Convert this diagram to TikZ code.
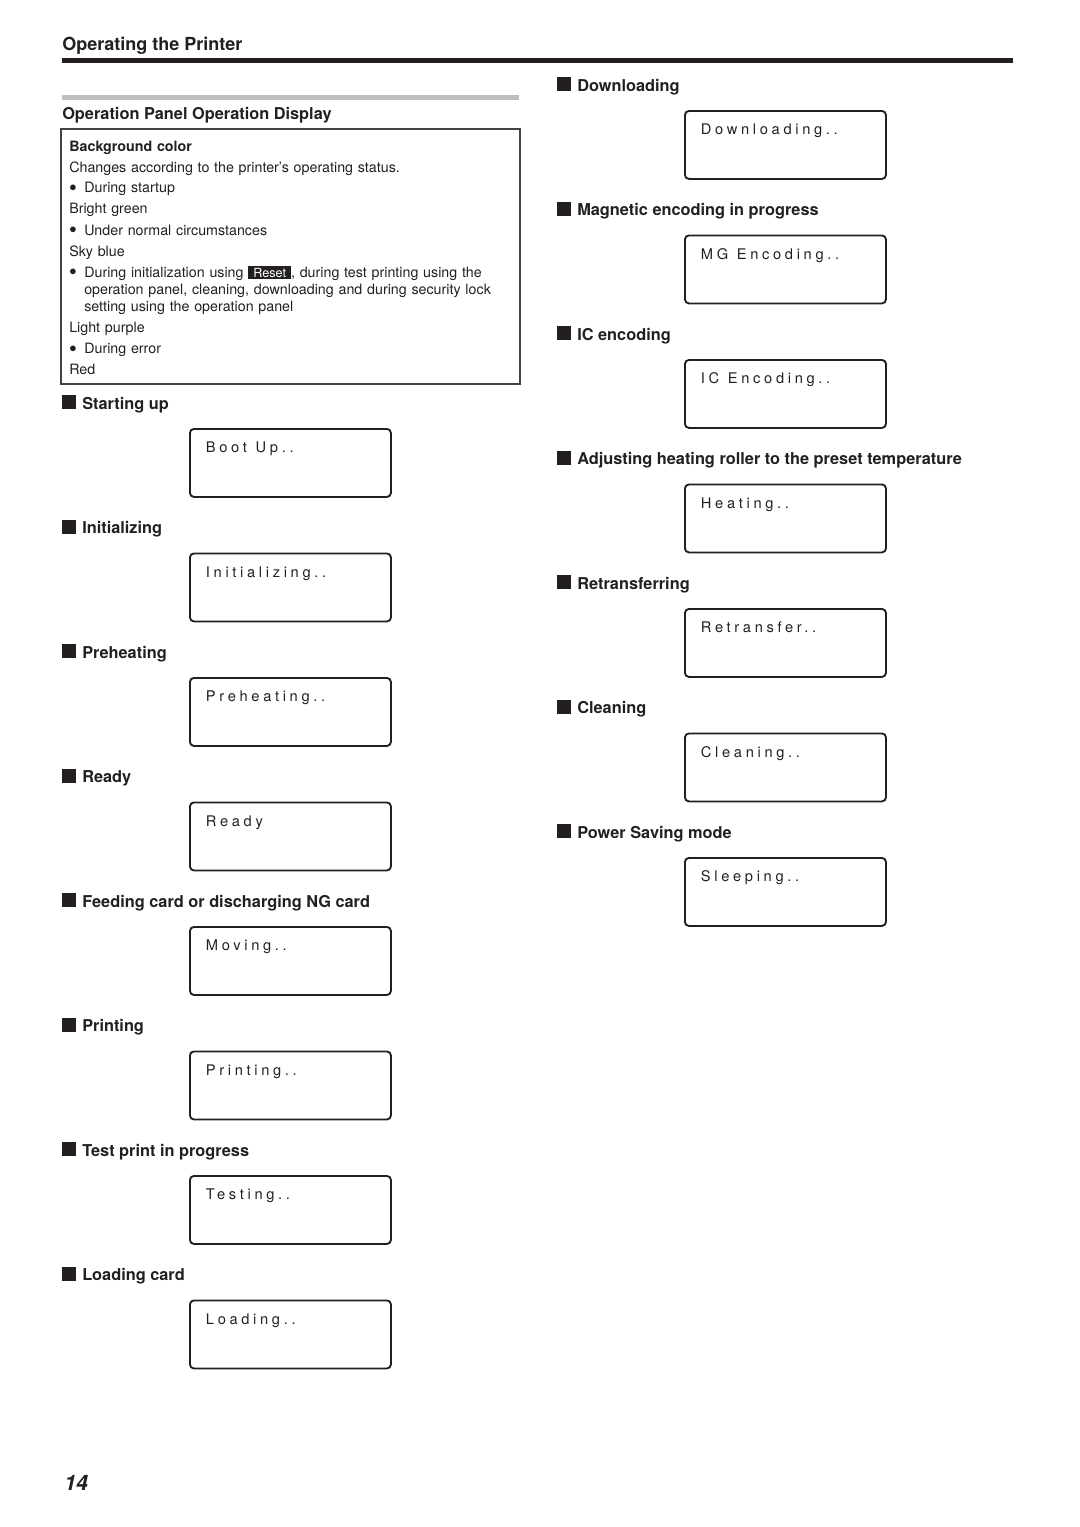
\documentclass[tikz,border=0pt]{standalone}
\usepackage{fontspec}
\setmainfont{TeX Gyre Heros}
\usepackage{tikz}
\usetikzlibrary{positioning}
\usepackage{xcolor}
\definecolor{ink}{HTML}{231F20}
\definecolor{rulegray}{HTML}{BEBEBE}
\newcommand{\hdmark}{\rule{10.5pt}{10.5pt}\hspace{4.5pt}}
\newcommand{\bul}{\hangindent=11.25pt\hangafter=1\makebox[11.25pt][l]{\raisebox{0.9pt}{$\bullet$}}}
\newcommand{\resetkey}{{\setlength{\fboxsep}{1.5pt}\colorbox{ink}{\fontsize{9.5}{9.5}\selectfont\hspace{2.2pt}\textcolor{white}{Reset}\hspace{2.2pt}}}}
\newcommand{\wsp}{\hspace{6.5pt}}
\tikzset{
  ttl/.style   = {anchor=base west, inner sep=0pt, text=ink,
                  font=\fontsize{13.5}{15}\selectfont\bfseries},
  hd/.style    = {anchor=base west, inner sep=0pt, text=ink,
                  font=\fontsize{12.25}{14}\selectfont\bfseries},
  disp/.style  = {draw=ink, line width=1.4pt, rounded corners=3pt,
                  inner xsep=12pt, inner ysep=0pt, text height=18pt, text depth=33pt,
                  text width=126.75pt, align=left, text=ink,
                  font=\fontsize{11}{13}\selectfont\addfontfeature{LetterSpace=25}},
  bgtxt/.style = {anchor=base west, inner sep=0pt, text width=334pt, align=left, text=ink,
                  font=\fontsize{10.7}{13.1}\selectfont,
                  execute at begin node={\parindent=0pt\parskip=2.65pt}},
  frame/.style = {draw=ink!85, line width=1.1pt},
}
\begin{document}
\begin{tikzpicture}[x=0.75pt, y=-0.75pt]
  \useasboundingbox (0,0) rectangle (1080,1527);

  % ── page header
  \node[ttl] (title) at (62,51) {Operating the Printer};
  \draw[line width=3.75pt, ink] (62,60.5) -- (1013,60.5);
  \draw[line width=3.4pt, rulegray] (62,97.5) -- (519,97.5);
  \node[hd] (panel) at (62,119) {Operation Panel Operation Display};

  % ── background colour box
  \draw[frame] (61,129) rectangle (520,384);
  \node[bgtxt] (bgtext) at (69,151) {%
    {\bfseries Background color}\par
    Changes according to the printer’s operating status.\par
    \bul During startup\par
    Bright green\par
    \bul Under normal circumstances\par
    Sky blue\par
    \bul During initialization using \resetkey, during test printing using the\newline
      operation panel, cleaning, downloading and during security lock\newline
      setting using the operation panel\par
    Light purple\par
    \bul During error\par
    Red};

  % ── left column
  \node[hd] (hboot)  at (62,409)    {\hdmark Starting up};
  \node[disp, below right=14.25pt and 95.25pt of hboot.base west]  (boot)  {Boot\wsp Up..};
  \node[hd] (hinit)  at (62,533.5)  {\hdmark Initializing};
  \node[disp, below right=14.25pt and 95.25pt of hinit.base west]  (init)  {Initializing..};
  \node[hd] (hpre)   at (62,658)    {\hdmark Preheating};
  \node[disp, below right=14.25pt and 95.25pt of hpre.base west]   (pre)   {Preheating..};
  \node[hd] (hready) at (62,782.5)  {\hdmark Ready};
  \node[disp, below right=14.25pt and 95.25pt of hready.base west] (ready) {Ready};
  \node[hd] (hmove)  at (62,907)    {\hdmark Feeding card or discharging NG card};
  \node[disp, below right=14.25pt and 95.25pt of hmove.base west]  (move)  {Moving..};
  \node[hd] (hprint) at (62,1031.5) {\hdmark Printing};
  \node[disp, below right=14.25pt and 95.25pt of hprint.base west] (print) {Printing..};
  \node[hd] (htest)  at (62,1156)   {\hdmark Test print in progress};
  \node[disp, below right=14.25pt and 95.25pt of htest.base west]  (test)  {Testing..};
  \node[hd] (hload)  at (62,1280.5) {\hdmark Loading card};
  \node[disp, below right=14.25pt and 95.25pt of hload.base west]  (load)  {Loading..};

  % ── right column
  \node[hd] (hdown)  at (557,91)    {\hdmark Downloading};
  \node[disp, below right=14.25pt and 95.25pt of hdown.base west]  (down)  {Downloading..};
  \node[hd] (hmg)    at (557,215.5) {\hdmark Magnetic encoding in progress};
  \node[disp, below right=14.25pt and 95.25pt of hmg.base west]    (mg)    {MG\wsp Encoding..};
  \node[hd] (hic)    at (557,340)   {\hdmark IC encoding};
  \node[disp, below right=14.25pt and 95.25pt of hic.base west]    (ic)    {IC\wsp Encoding..};
  \node[hd] (hheat)  at (557,464.5) {\hdmark Adjusting heating roller to the preset temperature};
  \node[disp, below right=14.25pt and 95.25pt of hheat.base west]  (heat)  {Heating..};
  \node[hd] (hretr)  at (557,589)   {\hdmark Retransferring};
  \node[disp, below right=14.25pt and 95.25pt of hretr.base west]  (retr)  {Retransfer..};
  \node[hd] (hclean) at (557,713.5) {\hdmark Cleaning};
  \node[disp, below right=14.25pt and 95.25pt of hclean.base west] (clean) {Cleaning..};
  \node[hd] (hsleep) at (557,838)   {\hdmark Power Saving mode};
  \node[disp, below right=14.25pt and 95.25pt of hsleep.base west] (sleep) {Sleeping..};

  % ── page number
  \node[anchor=base west, inner sep=0pt, text=ink,
        font=\fontsize{16}{18}\selectfont\bfseries\itshape] (pgno) at (64,1490) {14};

\end{tikzpicture}
\end{document}
